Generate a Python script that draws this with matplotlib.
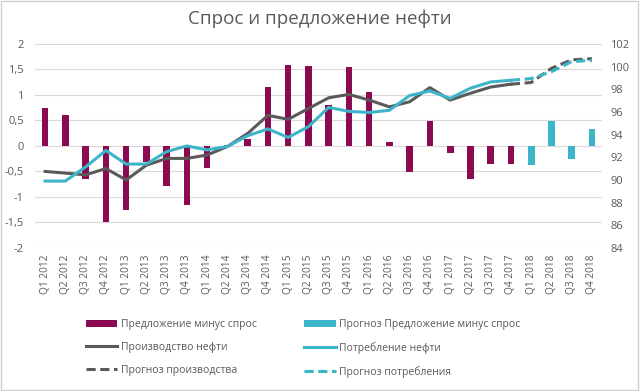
import numpy as np
import matplotlib
matplotlib.use('Agg')
import matplotlib.pyplot as plt
from matplotlib.patches import Rectangle

plt.rcParams['font.family'] = ['Open Sans', 'DejaVu Sans']

### DATA
quarters = ['Q1 2012', 'Q2 2012', 'Q3 2012', 'Q4 2012',
            'Q1 2013', 'Q2 2013', 'Q3 2013', 'Q4 2013',
            'Q1 2014', 'Q2 2014', 'Q3 2014', 'Q4 2014',
            'Q1 2015', 'Q2 2015', 'Q3 2015', 'Q4 2015',
            'Q1 2016', 'Q2 2016', 'Q3 2016', 'Q4 2016',
            'Q1 2017', 'Q2 2017', 'Q3 2017', 'Q4 2017',
            'Q1 2018', 'Q2 2018', 'Q3 2018', 'Q4 2018']

# balance, left axis (mb/d)
balance = [0.75, 0.61, -0.64, -1.50, -1.25, -0.32, -0.79, -1.16,
           -0.43, 0.02, 0.13, 1.16, 1.59, 1.57, 0.80, 1.55,
           1.05, 0.08, -0.51, 0.48, -0.14, -0.64, -0.35, -0.35]
balance_fc = [-0.38, 0.48, -0.25, 0.34]

# production / consumption, right axis
production = [90.75, 90.6, 90.45, 91.0, 90.0, 91.3, 91.9, 91.9,
              92.2, 92.95, 94.1, 95.7, 95.35, 96.3, 97.25, 97.55,
              97.05, 96.45, 96.9, 98.15, 97.05, 97.65, 98.2, 98.45]
production_fc = [98.45, 98.6, 99.85, 100.6, 100.7]

consumption = [89.9, 89.9, 91.15, 92.6, 91.4, 91.4, 92.5, 93.0,
               92.65, 92.95, 93.9, 94.5, 93.75, 94.7, 96.4, 96.05,
               95.95, 96.15, 97.45, 97.85, 97.2, 98.1, 98.65, 98.8]
consumption_fc = [98.8, 98.95, 99.55, 100.45, 100.55]

### STYLE
c_bar  = '#8c0a52'
c_cyan = '#3cb5c9'
c_gray = '#5a5a5a'
c_text = '#595959'

x    = np.arange(len(quarters))
n    = len(balance)
x_fc = x[n:]
x_lfc = x[n - 1:]

### PLOT
fig = plt.figure(figsize=(6.4, 3.91), dpi=100)
ax  = fig.add_axes([0.0547, 0.366, 0.886, 0.5215])
ax2 = ax.twinx()

b1 = ax.bar(x[:n], balance, width=0.33, color=c_bar, zorder=2)
b2 = ax.bar(x_fc, balance_fc, width=0.33, color=c_cyan, zorder=2)

l1, = ax2.plot(x[:n], production, color=c_gray, lw=2.2)
l2, = ax2.plot(x_lfc, production_fc, color=c_gray, lw=2.2, ls=(0, (3, 1.5)))
l3, = ax2.plot(x[:n], consumption, color=c_cyan, lw=2.2)
l4, = ax2.plot(x_lfc, consumption_fc, color=c_cyan, lw=2.2, ls=(0, (3, 1.5)))

ax.set_xlim(-0.5, len(quarters) - 0.5)
ax.set_ylim(-2, 2)
ax.set_yticks(np.arange(-2, 2.01, 0.5))
ax.set_yticklabels([('%g' % v).replace('.', ',') for v in np.arange(-2, 2.01, 0.5)])
ax2.set_ylim(84, 102)
ax2.set_yticks(np.arange(84, 103, 2))

ax.set_xticks(x)
ax.set_xticklabels(quarters, rotation=90, color=c_text)
ax.grid(axis='y', color='#d9d9d9', lw=0.8, zorder=0)
ax.set_axisbelow(True)

for a in (ax, ax2):
    for s in a.spines.values():
        s.set_visible(False)
    a.tick_params(length=0, labelsize=8, colors=c_text)
ax.tick_params(axis='x', labelsize=7.3, pad=5)
ax.tick_params(axis='y', pad=8)
ax2.tick_params(axis='y', pad=6)

fig.text(0.5, 0.953, 'Спрос и предложение нефти', ha='center', va='center',
         fontsize=13.5, color=c_text)

fig.legend([b1, l1, l2, b2, l3, l4],
           ['Предложение минус спрос', 'Производство нефти', 'Прогноз производства',
            'Прогноз Предложение минус спрос', 'Потребление нефти', 'Прогноз потребления'],
           ncol=2, loc='lower left', bbox_to_anchor=(0.12, 0.01), frameon=False,
           fontsize=7.5, labelcolor=c_text, handlelength=3, handletextpad=0.3,
           columnspacing=4.6, labelspacing=1.15)

fig.patches.append(Rectangle((0.002, 0.003), 0.995, 0.994, transform=fig.transFigure,
                             fill=False, edgecolor='#d0d0d0', lw=1))

fig.savefig('out.png', dpi=100)
